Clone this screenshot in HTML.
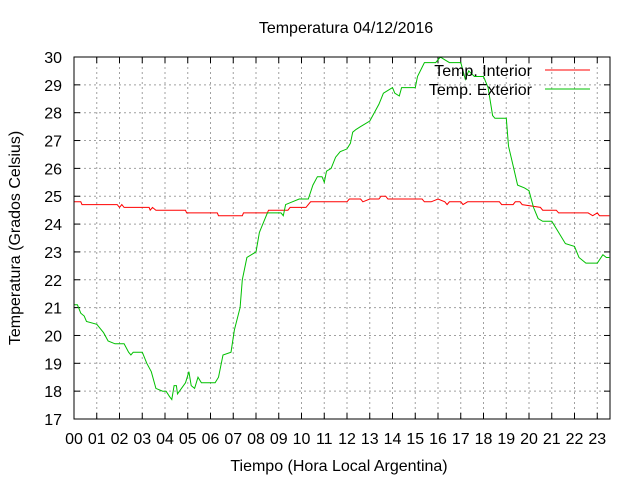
<!DOCTYPE html>
<html><head><meta charset="utf-8"><style>
body{margin:0;background:#fff}
svg text{font-family:"Liberation Sans","DejaVu Sans",sans-serif;fill:#000}
</style></head><body>
<svg id="chart" width="640" height="480" xmlns="http://www.w3.org/2000/svg">
<rect width="640" height="480" fill="#fff"/>
<text x="346" y="33" font-size="16" text-anchor="middle">Temperatura 04/12/2016</text>
<g id="grid"></g>
<g id="ticks"></g>
<g id="series"></g>
<rect x="74" y="57" width="536" height="362" fill="none" stroke="#000" stroke-width="1"/>
<text x="339" y="471" font-size="16" text-anchor="middle">Tiempo (Hora Local Argentina)</text>
<text x="20" y="238" font-size="16" text-anchor="middle" transform="rotate(-90 20 238)">Temperatura (Grados Celsius)</text>
<g>
<text x="532" y="76" font-size="16" text-anchor="end">Temp. Interior</text>
<line x1="545" y1="70" x2="590" y2="70" stroke="#ff0000"/>
<text x="532" y="95" font-size="16" text-anchor="end">Temp. Exterior</text>
<line x1="545" y1="89" x2="590" y2="89" stroke="#00c000"/>
</g>
</svg>
<script>
const xTickLabels=["00","01","02","03","04","05","06","07","08","09","10","11","12","13","14","15","16","17","18","19","20","21","22","23"];
const yTickValues=[17,18,19,20,21,22,23,24,25,26,27,28,29,30];
const interiorHours=[0,0.3,0.35,1.9,2.0,2.1,2.2,3.3,3.35,3.45,3.6,4.9,4.95,6.3,6.35,7.4,7.45,8.5,8.55,9.4,9.5,10.2,10.3,10.4,12.0,12.1,12.6,12.7,13.0,13.4,13.5,13.7,13.8,15.3,15.4,15.7,16.0,16.3,16.4,16.5,17.0,17.1,17.3,18.7,18.8,19.3,19.4,19.6,19.7,20.5,20.6,21.2,21.3,22.6,22.8,23.0,23.1,23.53];
const interiorTemps=[24.8,24.8,24.7,24.7,24.6,24.7,24.6,24.6,24.5,24.6,24.5,24.5,24.4,24.4,24.3,24.3,24.4,24.4,24.5,24.5,24.6,24.6,24.7,24.8,24.8,24.9,24.9,24.8,24.9,24.9,25.0,25.0,24.9,24.9,24.8,24.8,24.9,24.8,24.7,24.8,24.8,24.7,24.8,24.8,24.7,24.7,24.8,24.8,24.7,24.6,24.5,24.5,24.4,24.4,24.3,24.4,24.3,24.3];
const exteriorHours=[0,0.15,0.3,0.45,0.55,1.0,1.3,1.5,1.8,2.2,2.4,2.5,2.6,3.0,3.2,3.4,3.6,3.9,4.05,4.2,4.3,4.4,4.5,4.55,4.9,5.05,5.15,5.3,5.45,5.6,6.2,6.35,6.55,6.9,7.05,7.3,7.4,7.6,8.0,8.15,8.3,8.5,9.1,9.2,9.3,9.6,9.9,10.3,10.5,10.7,10.9,11.0,11.1,11.3,11.5,11.7,12.0,12.15,12.25,12.4,12.6,12.8,13.0,13.2,13.4,13.6,13.8,14.0,14.1,14.3,14.4,15.0,15.1,15.4,15.6,15.9,16.1,16.3,16.5,17.0,17.2,17.35,17.6,18.0,18.2,18.4,18.5,19.0,19.1,19.3,19.5,19.8,20.0,20.2,20.4,20.6,21.0,21.3,21.6,22.0,22.2,22.5,23.0,23.25,23.4,23.53];
const exteriorTemps=[21.1,21.1,20.8,20.7,20.5,20.4,20.1,19.8,19.7,19.7,19.4,19.3,19.4,19.4,19.0,18.7,18.1,18.0,18.0,17.8,17.7,18.2,18.2,17.9,18.3,18.7,18.2,18.1,18.5,18.3,18.3,18.5,19.3,19.4,20.2,21.0,22.0,22.8,23.0,23.7,24.0,24.4,24.4,24.3,24.7,24.8,24.9,24.9,25.4,25.7,25.7,25.5,25.9,26.0,26.4,26.6,26.7,26.9,27.3,27.4,27.5,27.6,27.7,28.0,28.3,28.7,28.8,28.9,28.7,28.6,28.9,28.9,29.3,29.8,29.8,29.8,30.0,29.9,29.8,29.8,29.2,29.5,29.3,29.3,28.9,27.9,27.8,27.8,26.8,26.1,25.4,25.3,25.2,24.6,24.2,24.1,24.1,23.7,23.3,23.2,22.8,22.6,22.6,22.9,22.8,22.8];

const NS="http://www.w3.org/2000/svg";
const L=74,R=610,T=57,B=419,hourPx=22.75,yMin=17,yMax=30;
const xs=h=>L+h*hourPx;
const ys=v=>B-(v-yMin)/(yMax-yMin)*(B-T);
function mk(tag,attrs,parent){const e=document.createElementNS(NS,tag);for(const k in attrs)e.setAttribute(k,attrs[k]);parent.appendChild(e);return e;}
const grid=document.getElementById('grid'),ticks=document.getElementById('ticks'),series=document.getElementById('series');
xTickLabels.forEach((lab,i)=>{
  const x=xs(i);
  if(i>0){const g=mk('line',{x1:x,y1:T,x2:x,y2:B,stroke:'#a0a0a0','stroke-dasharray':'2,3'},grid);
  
  }
  const t1=mk('line',{x1:x,y1:B,x2:x,y2:B-6,stroke:'#000'},ticks);
  
  
  const t2=mk('line',{x1:x,y1:T,x2:x,y2:T+6,stroke:'#000'},ticks);
  
  
  const tx=mk('text',{x:x,y:B+25,'font-size':'16','text-anchor':'middle'},ticks);
  tx.textContent=lab;
  
  
});
yTickValues.forEach(v=>{
  const y=ys(v);
  if(v>yMin&&v<yMax){const g=mk('line',{x1:L,y1:y,x2:R,y2:y,stroke:'#a0a0a0','stroke-dasharray':'2,3'},grid);
  
  }
  const t1=mk('line',{x1:L,y1:y,x2:L+6,y2:y,stroke:'#000'},ticks);
  
  
  const t2=mk('line',{x1:R,y1:y,x2:R-6,y2:y,stroke:'#000'},ticks);
  
  
  const tx=mk('text',{x:L-12,y:y+6,'font-size':'16','text-anchor':'end'},ticks);
  tx.textContent=v;
  
  
});
function line(hours,temps,color,name){
  const d=hours.map((h,i)=>(i?'L':'M')+xs(h).toFixed(1)+','+ys(temps[i]).toFixed(1)).join(' ');
  const p=mk('path',{d:d,fill:'none',stroke:color,'stroke-width':'1'},series);
  
  
}
line(interiorHours,interiorTemps,'#ff0000','interior-temp-line');
line(exteriorHours,exteriorTemps,'#00c000','exterior-temp-line');
</script>
</body></html>
